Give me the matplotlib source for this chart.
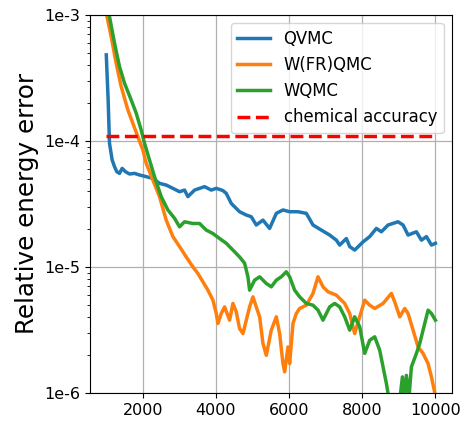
import matplotlib
matplotlib.use("Agg")
import matplotlib.pyplot as plt
from matplotlib.ticker import NullFormatter

qvmc_x = [1000, 1051, 1088, 1161, 1225, 1288, 1361, 1434, 1526, 1635, 1772, 1909, 2091, 2274,
          2456, 2639, 2821, 3003, 3140, 3231, 3414, 3551, 3688, 3870, 4007, 4098, 4189, 4281,
          4417, 4554, 4645, 4828, 4965, 5101, 5284, 5466, 5649, 5831, 6014, 6242, 6470, 6652,
          6880, 7108, 7291, 7382, 7564, 7656, 7792, 8021, 8203, 8385, 8522, 8705, 8978, 9115,
          9252, 9480, 9617, 9754, 9891, 10000]
qvmc_y = [4.81e-4, 2.11e-4, 9.56e-5, 7.05e-5, 6.24e-5, 5.69e-5, 5.52e-5, 6.05e-5, 5.69e-5,
          5.46e-5, 5.52e-5, 5.36e-5, 5.20e-5, 5.04e-5, 4.60e-5, 4.46e-5, 4.20e-5, 3.95e-5,
          4.07e-5, 3.61e-5, 4.07e-5, 4.20e-5, 4.33e-5, 4.07e-5, 4.20e-5, 4.12e-5, 4.03e-5,
          3.83e-5, 3.19e-5, 2.91e-5, 2.74e-5, 2.58e-5, 2.50e-5, 2.15e-5, 2.35e-5, 2.02e-5,
          2.66e-5, 2.83e-5, 2.74e-5, 2.74e-5, 2.66e-5, 2.15e-5, 1.96e-5, 1.79e-5, 1.63e-5,
          1.49e-5, 1.68e-5, 1.45e-5, 1.36e-5, 1.58e-5, 1.74e-5, 2.02e-5, 1.90e-5, 2.15e-5,
          2.28e-5, 2.15e-5, 1.79e-5, 1.90e-5, 1.63e-5, 1.74e-5, 1.49e-5, 1.54e-5]

wfr_x = [1000, 1133, 1270, 1407, 1590, 1726, 1863, 2000, 2091, 2274, 2456, 2639, 2821, 3003,
         3186, 3368, 3505, 3642, 3779, 3916, 4007, 4053, 4144, 4235, 4372, 4463, 4554, 4645,
         4737, 4828, 4919, 5010, 5101, 5193, 5284, 5375, 5512, 5649, 5740, 5831, 5877, 5968,
         6014, 6105, 6196, 6287, 6470, 6652, 6789, 6926, 7063, 7291, 7519, 7656, 7792, 7929,
         8066, 8203, 8340, 8568, 8796, 8887, 9024, 9161, 9252, 9389, 9526, 9662, 9799, 9891,
         10000]
wfr_y = [1.03e-3, 6.73e-4, 4.13e-4, 2.70e-4, 1.76e-4, 1.38e-4, 1.08e-4, 8.47e-5, 6.64e-5,
         4.89e-5, 3.61e-5, 2.35e-5, 1.74e-5, 1.45e-5, 1.20e-5, 1.00e-5, 8.87e-6, 7.62e-6,
         6.54e-6, 5.45e-6, 4.27e-6, 3.56e-6, 4.27e-6, 4.82e-6, 3.78e-6, 5.13e-6, 4.40e-6,
         3.24e-6, 2.96e-6, 3.78e-6, 4.82e-6, 5.79e-6, 4.82e-6, 4.02e-6, 2.47e-6, 1.99e-6,
         3.15e-6, 4.02e-6, 2.96e-6, 1.71e-6, 1.47e-6, 2.32e-6, 1.71e-6, 3.56e-6, 4.27e-6,
         4.68e-6, 4.97e-6, 6.16e-6, 8.35e-6, 6.95e-6, 6.35e-6, 5.97e-6, 5.13e-6, 4.27e-6,
         2.96e-6, 4.02e-6, 5.45e-6, 4.97e-6, 4.68e-6, 5.13e-6, 6.16e-6, 5.28e-6, 4.02e-6,
         4.68e-6, 4.27e-6, 3.15e-6, 2.32e-6, 2.06e-6, 1.71e-6, 1.34e-6, 9.5e-7]

wqmc_x = [1000, 1225, 1361, 1498, 1681, 1818, 1954, 2046, 2182, 2319, 2502, 2684, 2867, 3003,
          3140, 3368, 3551, 3733, 3916, 4098, 4281, 4463, 4645, 4782, 4873, 4919, 5056, 5193,
          5375, 5512, 5649, 5786, 5922, 6014, 6150, 6287, 6470, 6652, 6789, 6926, 7108, 7245,
          7382, 7519, 7656, 7792, 7929, 8066, 8203, 8340, 8477, 8568, 8659, 8750, 8887, 9024,
          9097, 9143, 9206, 9279, 9343, 9480, 9571, 9708, 9799, 9891, 10000]
wqmc_y = [1.32e-3, 5.96e-4, 3.89e-4, 2.87e-4, 2.11e-4, 1.66e-4, 1.22e-4, 9.56e-5, 7.05e-5,
          5.20e-5, 3.61e-5, 2.83e-5, 2.43e-5, 2.08e-5, 2.28e-5, 2.21e-5, 2.21e-5, 1.96e-5,
          1.84e-5, 1.68e-5, 1.54e-5, 1.36e-5, 1.20e-5, 1.07e-5, 8.35e-6, 6.54e-6, 7.85e-6,
          8.35e-6, 7.39e-6, 6.95e-6, 7.85e-6, 8.35e-6, 9.15e-6, 8.35e-6, 6.54e-6, 5.79e-6,
          5.13e-6, 4.97e-6, 4.54e-6, 3.78e-6, 4.82e-6, 5.13e-6, 4.82e-6, 4.02e-6, 3.15e-6,
          4.02e-6, 3.35e-6, 2.06e-6, 2.62e-6, 2.79e-6, 2.18e-6, 1.61e-6, 1.19e-6, 8.23e-7,
          7.29e-7, 8.75e-7, 1.34e-6, 8.75e-7, 1.38e-6, 9.30e-7, 1.61e-6, 2.06e-6, 2.47e-6,
          3.56e-6, 4.54e-6, 4.27e-6, 3.78e-6]

chem_x = [1000, 10000]
chem_y = [1.09e-4, 1.09e-4]

ytick_vals = [1e-6, 1e-5, 1e-4, 1e-3]
ytick_labels = ["1e-6", "1e-5", "1e-4", "1e-3"]
xtick_vals = [2000, 4000, 6000, 8000, 10000]

fig = plt.figure(figsize=(4.63, 4.23), dpi=100)
ax = fig.add_axes([0.194, 0.071, 0.782, 0.894])

lw = 2.5
ax.plot(qvmc_x, qvmc_y, color="#1f77b4", lw=lw, label="QVMC")
ax.plot(wfr_x, wfr_y, color="#ff7f0e", lw=lw, label="W(FR)QMC")
ax.plot(wqmc_x, wqmc_y, color="#2ca02c", lw=lw, label="WQMC")
ax.plot(chem_x, chem_y, color="red", lw=lw, ls="--", label="chemical accuracy")

ax.set_yscale("log")
ax.set_ylim(1e-6, 1e-3)
ax.set_xlim(550, 10450)
ax.set_yticks(ytick_vals)
ax.set_yticklabels(ytick_labels)
ax.yaxis.set_minor_formatter(NullFormatter())
ax.set_xticks(xtick_vals)
ax.tick_params(labelsize=11.5)
ax.grid(True, which="major", color="#b0b0b0", lw=0.9)
ax.set_ylabel("Relative energy error", fontsize=17.7)
ax.legend(loc="upper right", fontsize=11.9)

fig.savefig("out.png", dpi=100)
